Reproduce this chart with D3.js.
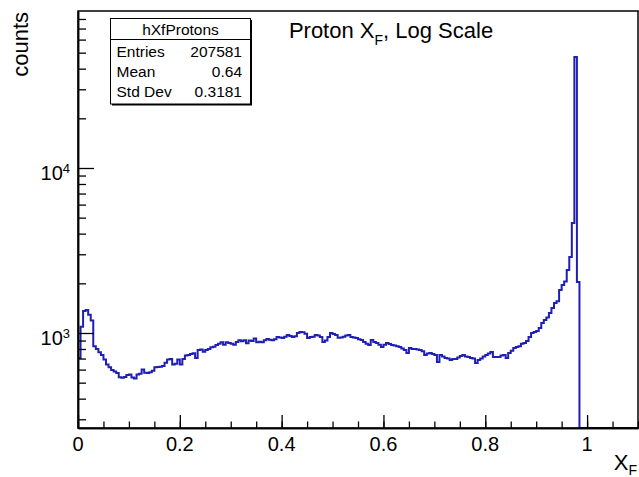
<!DOCTYPE html>
<html>
<head>
<meta charset="utf-8">
<script src="https://cdn.jsdelivr.net/npm/d3@7"></script>
<style>
	body { margin: 0; background: #fff; }
	text { font-family: 'Liberation Sans', Arial, Helvetica, sans-serif; fill: #000; }
</style>
</head>
<body>
<div id="chart"></div>
<script>
// histogram hXfProtons: 220 bins of 0.005 from 0 to 1.1
var binLow = 0;
var binWidth = 0.005;
var counts = [
	705, 1090, 1360, 1380, 1290, 1190, 830, 800, 765, 736,
	690, 645, 620, 597, 585, 572, 540, 535, 541, 556,
	560, 538, 530, 560, 566, 600, 575, 572, 578, 590,
	620, 622, 625, 630, 660, 690, 695, 645, 650, 690,
	645, 695, 730, 735, 745, 755, 705, 790, 795, 770,
	790, 800, 820, 825, 845, 860, 880, 850, 880, 870,
	860, 848, 882, 905, 890, 905, 868, 900, 895, 925,
	880, 885, 880, 905, 920, 910, 905, 915, 945, 940,
	933, 950, 972, 960, 946, 955, 1000, 1014, 1010, 990,
	933, 946, 950, 972, 965, 946, 882, 900, 946, 1000,
	985, 972, 935, 940, 948, 965, 972, 946, 940, 933,
	915, 907, 882, 860, 846, 907, 882, 870, 850, 823,
	850, 870, 858, 846, 840, 830, 823, 805, 789, 757,
	811, 800, 800, 795, 789, 775, 736, 750, 757, 745,
	736, 667, 736, 720, 705, 700, 686, 695, 695, 710,
	725, 736, 720, 716, 705, 700, 658, 686, 700, 720,
	736, 750, 767, 716, 716, 716, 730, 736, 705, 757,
	780, 811, 823, 830, 860, 870, 895, 946, 1000, 1014,
	1030, 1072, 1150, 1199, 1240, 1322, 1418, 1520, 1560, 1822,
	1954, 2050, 2410, 2888, 4642, 47080, 2037, 0, 0, 0,
	0, 0, 0, 0, 0, 0, 0, 0, 0, 0,
	0, 0, 0, 0, 0, 0, 0, 0, 0, 0
];

var xTicks = [0, 0.2, 0.4, 0.6, 0.8, 1];
var xTickLabels = ['0', '0.2', '0.4', '0.6', '0.8', '1'];
var yDecades = [1000, 10000];
var yExponents = ['3', '4'];

var histName = 'hXfProtons';
var statNames = ['Entries', 'Mean', 'Std Dev'];
var statValues = ['207581', '0.64', '0.3181'];

var W = 639, H = 477;
var padL = 78, padR = 638, padT = 11, padB = 428;

var svg = d3.select('#chart').append('svg').attr('width', W).attr('height', H);

var xScale = d3.scaleLinear()
	.domain([0, 1.1])
	.range([padL, padR]);

var yScale = d3.scaleLog()
	.domain([265.6, 89430])
	.range([padB, padT]);

var blue = '#1f1fb4';

// histogram outline
svg.append('clipPath')
	.attr('id', 'clip')
	.append('rect')
	.attr('x', padL)
	.attr('y', padT)
	.attr('width', padR - padL)
	.attr('height', padB - padT);

var pts = counts.map(function(c, i) { return { x: binLow + i * binWidth, c: c }; });
pts.push({ x: binLow + counts.length * binWidth, c: counts[counts.length - 1] });

var line = d3.line()
	.x(function(d) { return xScale(d.x); })
	.y(function(d) { return d.c > 0 ? yScale(d.c) : padB; })
	.curve(d3.curveStepAfter);

svg.append('path')
	.attr('d', line(pts))
	.attr('fill', 'none')
	.attr('stroke', blue)
	.attr('stroke-width', 2)
	.attr('clip-path', 'url(#clip)');

// frame
svg.append('rect')
	.attr('x', padL)
	.attr('y', padT)
	.attr('width', padR - padL)
	.attr('height', padB - padT)
	.attr('fill', 'none')
	.attr('stroke', '#000')
	.attr('stroke-width', 1.5);

// x axis ticks (inward)
var xMinor = d3.range(0, 1.1001, 0.05);

svg.append('g')
	.attr('transform', 'translate(0,' + padB + ')')
	.call(d3.axisBottom(xScale).tickValues(xMinor).tickSize(-6.5).tickSizeOuter(0).tickFormat(''));

svg.append('g')
	.attr('transform', 'translate(0,' + padB + ')')
	.call(d3.axisBottom(xScale).tickValues(xTicks).tickSize(-13).tickSizeOuter(0).tickFormat(''));

svg.selectAll('.xlab')
	.data(xTicks)
	.enter().append('text')
	.attr('class', 'xlab')
	.attr('x', function(d) { return xScale(d); })
	.attr('y', 451)
	.attr('text-anchor', 'middle')
	.style('font-size', '20px')
	.text(function(d, i) { return xTickLabels[i]; });

// y axis ticks (inward)
var yMinor = [];
[100, 1000, 10000].forEach(function(dec) {
	for (var m = 2; m <= 9; m++) {
		var v = dec * m;
		if (v >= yScale.domain()[0] && v <= yScale.domain()[1]) yMinor.push(v);
	}
});

svg.append('g')
	.attr('transform', 'translate(' + padL + ',0)')
	.call(d3.axisLeft(yScale).tickValues(yMinor).tickSize(-8).tickSizeOuter(0).tickFormat(''));

svg.append('g')
	.attr('transform', 'translate(' + padL + ',0)')
	.call(d3.axisLeft(yScale).tickValues(yDecades).tickSize(-16).tickSizeOuter(0).tickFormat(''));

svg.selectAll('.domain').attr('stroke-width', 1.5);
svg.selectAll('.tick line').attr('stroke-width', 1.3);

var ylab = svg.selectAll('.ylab')
	.data(yDecades)
	.enter().append('text')
	.attr('class', 'ylab')
	.attr('x', 70)
	.attr('y', function(d) { return yScale(d) + 12; })
	.attr('text-anchor', 'end')
	.style('font-size', '20px');

ylab.append('tspan').text('10');
ylab.append('tspan')
	.attr('dy', -7)
	.style('font-size', '13px')
	.text(function(d, i) { return yExponents[i]; });

// axis titles
var xt = svg.append('text')
	.attr('x', 637)
	.attr('y', 470)
	.attr('text-anchor', 'end')
	.style('font-size', '22px');
xt.append('tspan').text('X');
xt.append('tspan').attr('dy', 5).style('font-size', '14px').text('F');

svg.append('text')
	.attr('transform', 'translate(28,12) rotate(-90)')
	.attr('text-anchor', 'end')
	.style('font-size', '22px')
	.text('counts');

// title
var title = svg.append('text')
	.attr('x', 391)
	.attr('y', 38)
	.attr('text-anchor', 'middle')
	.style('font-size', '22px');
title.append('tspan').text('Proton X');
title.append('tspan').attr('dy', 7).style('font-size', '14px').text('F');
title.append('tspan').attr('dy', -7).text(', Log Scale');

// stats box
var sx = 110.5, sy = 18.5, sw = 140, sh = 85.5;
var stats = svg.append('g');

stats.append('rect')
	.attr('x', sx + 1.5)
	.attr('y', sy + 1.5)
	.attr('width', sw)
	.attr('height', sh)
	.attr('fill', '#000');

stats.append('rect')
	.attr('x', sx)
	.attr('y', sy)
	.attr('width', sw)
	.attr('height', sh)
	.attr('fill', '#fff')
	.attr('stroke', '#000')
	.attr('stroke-width', 1);

stats.append('line')
	.attr('x1', sx)
	.attr('x2', sx + sw)
	.attr('y1', 39.5)
	.attr('y2', 39.5)
	.attr('stroke', '#000');

stats.append('text')
	.attr('x', sx + sw / 2)
	.attr('y', 35)
	.attr('text-anchor', 'middle')
	.style('font-size', '15.5px')
	.text(histName);

statNames.forEach(function(n, i) {
	stats.append('text')
		.attr('x', 116.5)
		.attr('y', 57 + 20 * i)
		.style('font-size', '15.5px')
		.text(n);
	stats.append('text')
		.attr('x', 242)
		.attr('y', 57 + 20 * i)
		.attr('text-anchor', 'end')
		.style('font-size', '15.5px')
		.text(statValues[i]);
});
</script>
</body>
</html>
